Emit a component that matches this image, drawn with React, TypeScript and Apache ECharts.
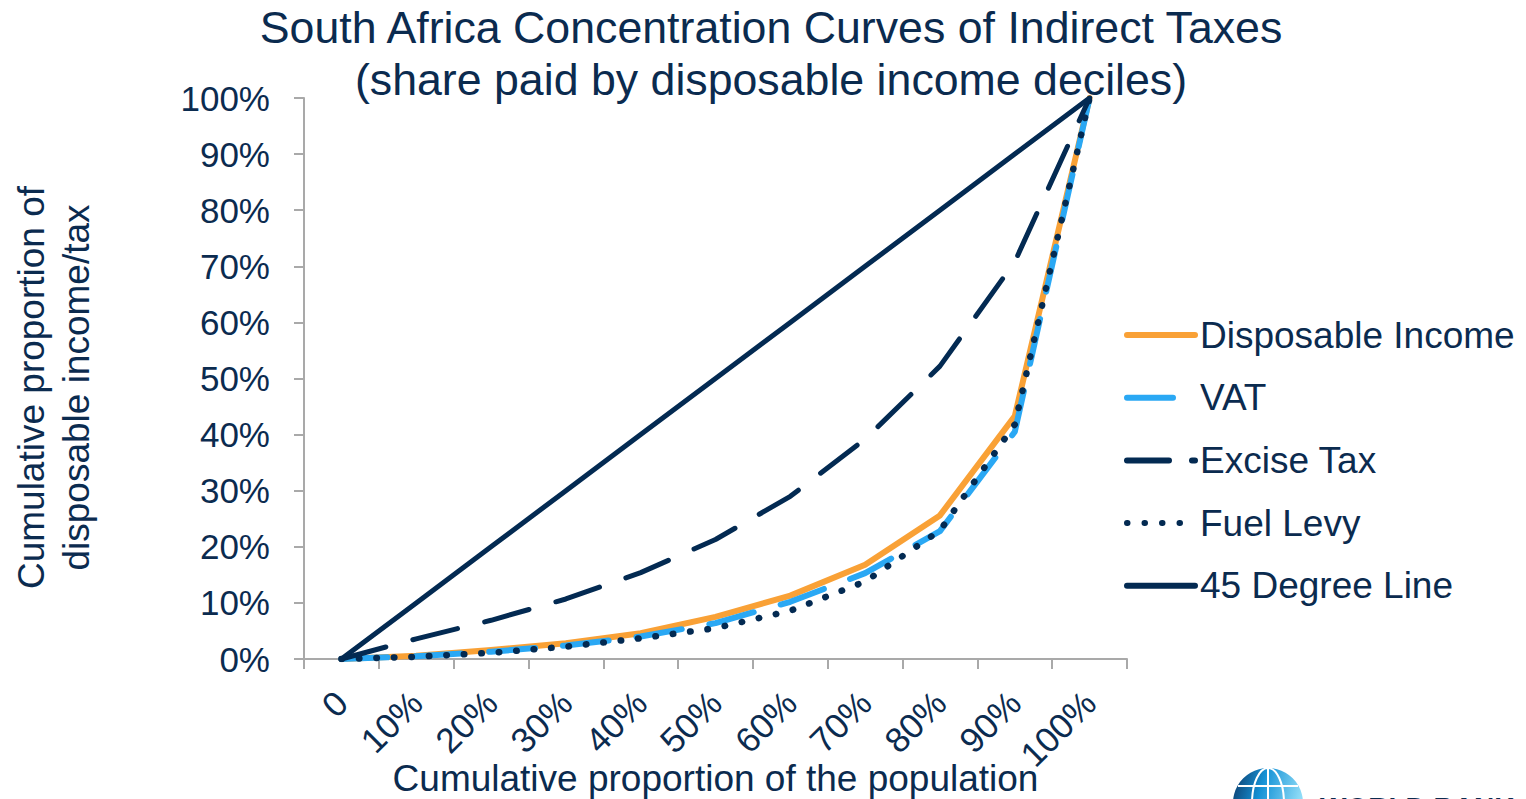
import React, { useEffect, useRef } from 'react';
import * as echarts from 'echarts';

// ---- data ----
const categories = ['0', '10%', '20%', '30%', '40%', '50%', '60%', '70%', '80%', '90%', '100%'];
const disposableIncome = [0, 0.6, 1.6, 2.8, 4.6, 7.5, 11.3, 16.8, 25.6, 43.3, 100];
const vat = [0, 0.5, 1.3, 2.4, 4.0, 6.4, 10.2, 15.3, 22.8, 40.5, 100];
const exciseTax = [0, 3.6, 6.9, 10.7, 15.4, 21.3, 29.0, 39.2, 52.2, 70.8, 100];
const fuelLevy = [0, 0.4, 1.1, 2.2, 3.7, 5.5, 8.6, 13.8, 22.9, 41.8, 100];
const degreeLine = [0, 10, 20, 30, 40, 50, 60, 70, 80, 90, 100];
const seriesNames = ['Disposable Income', 'VAT', 'Excise Tax', 'Fuel Levy', '45 Degree Line'];
const yTicks = { min: 0, max: 100, interval: 10 };

const NAVY = '#0b2b4f';
const LINE_NAVY = '#032a52';
const ORANGE = '#f9a136';
const BLUE = '#2aa8f4';
const AXIS_GREY = '#a9a9a9';
const FONT = '"Liberation Sans", Arial, Helvetica, sans-serif';

export default function App() {
  const ref = useRef<HTMLDivElement>(null);

  useEffect(() => {
    if (!ref.current) return;
    const chart = echarts.init(ref.current, undefined, { renderer: 'svg' });

    const mkLine = (name: string, data: number[], color: string, width: number, type: any) => ({
      name,
      type: 'line',
      data,
      symbol: 'none',
      showSymbol: false,
      smooth: false,
      lineStyle: { color, width, type, cap: 'round', join: 'round' },
      itemStyle: { color },
      emphasis: { disabled: true },
    });

    const legendData = seriesNames.map((n) =>
      n === 'Excise Tax' ? { name: n, lineStyle: { type: [42, 23] } } : { name: n }
    );

    const option: any = {
      animation: false,
      backgroundColor: '#ffffff',
      textStyle: { fontFamily: FONT },
      title: {
        text: 'South Africa Concentration Curves of Indirect Taxes\n(share paid by disposable income deciles)',
        left: 771,
        top: 1,
        textAlign: 'center',
        padding: 0,
        textStyle: {
          fontFamily: FONT,
          fontSize: 44.7,
          fontWeight: 'normal',
          color: NAVY,
          lineHeight: 52,
        },
      },
      legend: {
        orient: 'vertical',
        left: 1124,
        top: 315,
        padding: 0,
        itemWidth: 68,
        itemHeight: 2,
        itemGap: 22.7,
        data: legendData,
        lineStyle: { width: 6 },
        itemStyle: { opacity: 0 },
        textStyle: { fontFamily: FONT, fontSize: 37, color: NAVY, lineHeight: 40 },
      },
      grid: {
        left: 304,
        right: 399,
        top: 98,
        bottom: 140,
        containLabel: false,
        outerBoundsMode: 'none',
      },
      xAxis: {
        type: 'category',
        data: categories,
        boundaryGap: true,
        axisLine: { show: true, lineStyle: { color: AXIS_GREY, width: 2 } },
        axisTick: { show: true, length: 10, lineStyle: { color: AXIS_GREY, width: 2 } },
        axisLabel: {
          interval: 0,
          rotate: 45,
          fontFamily: FONT,
          fontSize: 35,
          color: NAVY,
          margin: 38,
        },
        splitLine: { show: false },
        name: 'Cumulative proportion of the population',
        nameLocation: 'middle',
        nameGap: 101,
        nameMoveOverlap: false,
        nameTextStyle: { fontFamily: FONT, fontSize: 37, color: NAVY },
      },
      yAxis: {
        type: 'value',
        min: yTicks.min,
        max: yTicks.max,
        interval: yTicks.interval,
        axisLine: { show: true, lineStyle: { color: AXIS_GREY, width: 2 } },
        axisTick: { show: true, length: 10, lineStyle: { color: AXIS_GREY, width: 2 } },
        splitLine: { show: false },
        axisLabel: {
          formatter: '{value}%',
          fontFamily: FONT,
          fontSize: 35,
          color: NAVY,
          margin: 34,
        },
        name: 'Cumulative proportion of\ndisposable income/tax',
        nameLocation: 'middle',
        nameGap: 205,
        nameMoveOverlap: false,
        nameTextStyle: {
          fontFamily: FONT,
          fontSize: 37,
          lineHeight: 45,
          color: NAVY,
          padding: [0, 18, 0, 0],
        },
      },
      series: [
        mkLine(seriesNames[0], disposableIncome, ORANGE, 6, 'solid'),
        mkLine(seriesNames[1], vat, BLUE, 6, [46, 28]),
        mkLine(seriesNames[2], exciseTax, LINE_NAVY, 5, [46, 28]),
        mkLine(seriesNames[3], fuelLevy, LINE_NAVY, 6.5, [0.5, 17]),
        mkLine(seriesNames[4], degreeLine, LINE_NAVY, 5, 'solid'),
      ],
      graphic: [
        {
          type: 'circle',
          silent: true,
          shape: { cx: 1268, cy: 803, r: 35 },
          style: {
            fill: new echarts.graphic.LinearGradient(0, 0, 1, 0.3, [
              { offset: 0, color: '#0d3563' },
              { offset: 0.45, color: '#1592d6' },
              { offset: 1, color: '#8fdcf7' },
            ]),
          },
        },
        {
          type: 'ellipse',
          silent: true,
          shape: { cx: 1268, cy: 803, rx: 16, ry: 35 },
          style: { fill: 'none', stroke: '#ffffff', lineWidth: 2 },
        },
        {
          type: 'line',
          silent: true,
          shape: { x1: 1268, y1: 768, x2: 1268, y2: 838 },
          style: { stroke: '#ffffff', lineWidth: 2 },
        },
        {
          type: 'line',
          silent: true,
          shape: { x1: 1238, y1: 786, x2: 1298, y2: 786 },
          style: { stroke: '#ffffff', lineWidth: 2 },
        },
        {
          type: 'text',
          silent: true,
          x: 1320,
          y: 807,
          style: {
            text: 'WORLD BANK',
            fontFamily: FONT,
            fontSize: 28,
            fontWeight: 'bold',
            fill: NAVY,
            verticalAlign: 'middle',
            align: 'left',
          },
        },
      ],
    };

    chart.setOption(option);
    return () => {
      chart.dispose();
    };
  }, []);

  return (
    <div
      ref={ref}
      style={{ position: 'fixed', left: 0, top: 0, width: 1526, height: 799, background: '#fff' }}
    />
  );
}
